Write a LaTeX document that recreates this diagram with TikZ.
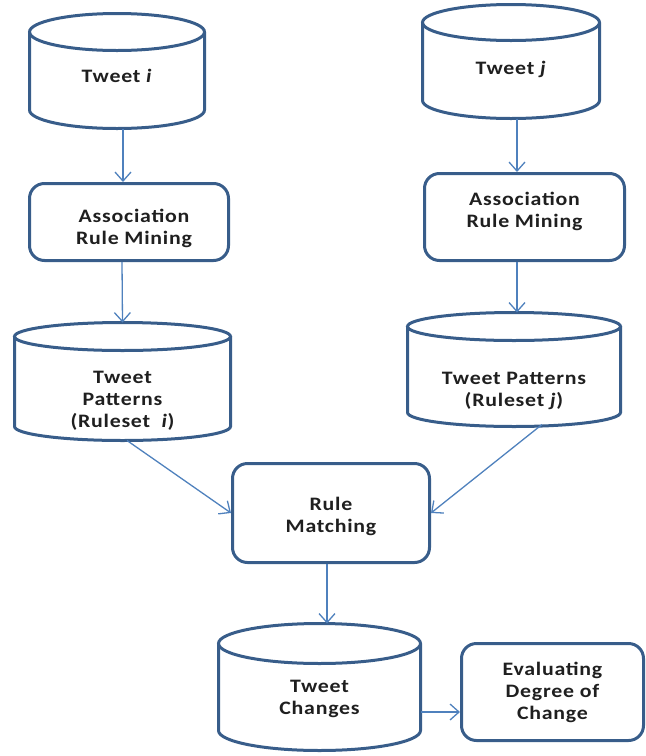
\documentclass[tikz,border=0pt]{standalone}
\usepackage{fontspec}
\setmainfont{Carlito}[FakeStretch=1.15,LetterSpace=4]
\usetikzlibrary{arrows.meta}
\definecolor{shapeline}{HTML}{385D8A}
\definecolor{flowline}{HTML}{4F81BD}
\definecolor{labeltext}{HTML}{1F1F1F}
\newcommand{\padtop}[1]{\rule{0pt}{#1}}
\newcommand{\padbot}[1]{\rule[-#1]{0pt}{1pt}}
% drum outline round a store node: name, half width, ellipse radius
\newcommand{\drum}[3]{%
  \draw[drumline] ([yshift=-#3]#1.north west) -- ([yshift=#3]#1.south west)
    arc[start angle=180, end angle=360, x radius=#2, y radius=#3]
    -- ([yshift=-#3]#1.north east);
  \draw[drumline] ([yshift=-#3]#1.north) ellipse[x radius=#2, y radius=#3];
}
\tikzset{
  store/.style={rectangle, outer sep=0pt, inner sep=0pt,
    align=center, text=labeltext, font=\bfseries\fontsize{19}{22}\selectfont},
  drumline/.style={draw=shapeline, line width=3pt},
  task/.style={rectangle, rounded corners=15pt, draw=shapeline, line width=3pt,
    align=center, text=labeltext, font=\bfseries\fontsize{19}{22}\selectfont},
  flow/.style={draw=flowline, line width=1.3pt, -{Straight Barb[length=9pt,width=16pt]}}
}
\begin{document}
\begin{tikzpicture}[x=1pt,y=-1pt]
    \useasboundingbox (0,0) rectangle (646,756);

    \node[store, minimum width=175pt, minimum height=115pt] (tweeti) at (117,71) {\padtop{24pt}Tweet \textit{i}};
    \drum{tweeti}{87.5pt}{18.5pt}
    \node[task, minimum width=199pt, minimum height=77pt] (armi) at (129,222) {\padtop{26pt}\hspace{10pt}Association\\\hspace{10pt}Rule Mining};
    \node[store, minimum width=216pt, minimum height=118pt] (patti) at (122.5,381.5) {\padtop{51pt}Tweet\\Patterns\\(Ruleset\ \ \textit{i})};
    \drum{patti}{108pt}{14pt}

    \node[store, minimum width=177pt, minimum height=114pt] (tweetj) at (511,61.5) {\padtop{29pt}Tweet \textit{j}};
    \drum{tweetj}{88.5pt}{18pt}
    \node[task, minimum width=200pt, minimum height=87pt] (armj) at (524.5,217) {Association\\Rule Mining\padbot{14pt}};
    \node[store, minimum width=213pt, minimum height=114pt] (pattj) at (514,369.5) {\padtop{55pt}Tweet Patterns\\(Ruleset \textit{j})};
    \drum{pattj}{106.5pt}{14pt}

    \node[task, minimum width=197pt, minimum height=99pt] (match) at (331,513) {\padtop{21pt}Rule\\Matching};
    \node[store, minimum width=202pt, minimum height=127pt] (changes) at (319.5,687) {\padtop{36pt}Tweet\\Changes};
    \drum{changes}{101pt}{20pt}
    \node[task, minimum width=182pt, minimum height=97pt] (eval) at (552.5,692) {Evaluating\\Degree of\\Change};

    \draw[flow] ([xshift=6pt]tweeti.south) -- ([xshift=-6pt]armi.north);
    \draw[flow] ([xshift=-7pt]armi.south) -- (patti.north);
    \draw[flow] ([xshift=6pt]tweetj.south) -- ([xshift=-7.5pt]armj.north);
    \draw[flow] ([xshift=-7.5pt]armj.south) -- ([xshift=3pt]pattj.north);
    \draw[flow] ([xshift=4.5pt]patti.south) -- (match.west);
    \draw[flow] ([xshift=28pt,yshift=2pt]pattj.south) -- (match.east);
    \draw[flow] ([xshift=-4pt]match.south) -- ([xshift=7.5pt]changes.north);
    \draw[flow] ([yshift=-25pt]changes.east) -- ([yshift=-25pt]changes.east -| eval.west);
\end{tikzpicture}
\end{document}
